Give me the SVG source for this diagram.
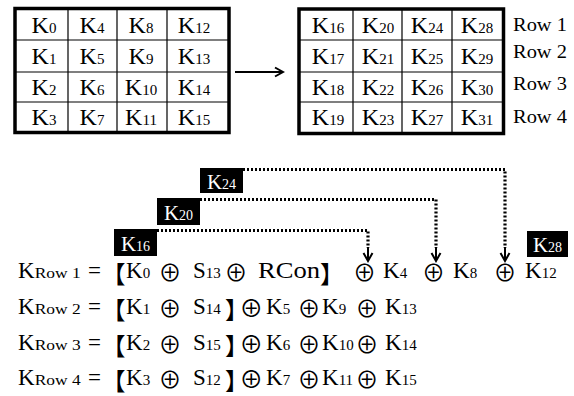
<svg xmlns="http://www.w3.org/2000/svg" width="574" height="396" viewBox="0 0 574 396">
<style>
.t{font-family:"Liberation Serif","Times New Roman",serif;fill:#000}
.w{fill:#fff}
.k{font-size:24px}
.d{font-size:15px}
.ek{font-size:23px}
.ed{font-size:15px}
.lk{font-size:21px}
.ld{font-size:14px}
.op{font-family:"Noto Sans CJK SC",sans-serif;font-size:23px}
.br{font-family:"Noto Sans CJK SC",sans-serif;font-size:24px}
.bo{font-family:"Noto Sans CJK SC",sans-serif;font-size:23.5px;letter-spacing:-9px}
.row{font-size:19px}
.grid{fill:none;stroke:#000;stroke-width:1.2}
.outer{fill:none;stroke:#000;stroke-width:3.5}
.mid{text-anchor:middle}
.dot{fill:none;stroke:#000;stroke-width:3.2;stroke-dasharray:2 2}
.sol{fill:none;stroke:#000;stroke-width:2}
</style>
<defs>
<marker id="ah" viewBox="-10 -6 12 12" refX="0" refY="0" markerWidth="12" markerHeight="12" markerUnits="userSpaceOnUse" orient="auto">
<path d="M-8,-4.5 L0,0 L-8,4.5" fill="none" stroke="#000" stroke-width="2"/>
</marker>
</defs>

<g id="table-left">
<rect class="outer" x="15" y="8.5" width="214" height="124"/>
<path class="grid" d="M68,8.5V132.5M117,8.5V132.5M167,8.5V132.5M15,40H229M15,72H229M15,102H229"/>
<g class="t mid">
<text x="44" y="33"><tspan class="k">K</tspan><tspan class="d">0</tspan></text>
<text x="92" y="33"><tspan class="k">K</tspan><tspan class="d">4</tspan></text>
<text x="141" y="33"><tspan class="k">K</tspan><tspan class="d">8</tspan></text>
<text x="194" y="33"><tspan class="k">K</tspan><tspan class="d">12</tspan></text>
<text x="44" y="64"><tspan class="k">K</tspan><tspan class="d">1</tspan></text>
<text x="92" y="64"><tspan class="k">K</tspan><tspan class="d">5</tspan></text>
<text x="141" y="64"><tspan class="k">K</tspan><tspan class="d">9</tspan></text>
<text x="194" y="64"><tspan class="k">K</tspan><tspan class="d">13</tspan></text>
<text x="44" y="95"><tspan class="k">K</tspan><tspan class="d">2</tspan></text>
<text x="92" y="95"><tspan class="k">K</tspan><tspan class="d">6</tspan></text>
<text x="141" y="95"><tspan class="k">K</tspan><tspan class="d">10</tspan></text>
<text x="194" y="95"><tspan class="k">K</tspan><tspan class="d">14</tspan></text>
<text x="44" y="125"><tspan class="k">K</tspan><tspan class="d">3</tspan></text>
<text x="92" y="125"><tspan class="k">K</tspan><tspan class="d">7</tspan></text>
<text x="141" y="125"><tspan class="k">K</tspan><tspan class="d">11</tspan></text>
<text x="194" y="125"><tspan class="k">K</tspan><tspan class="d">15</tspan></text>
</g>
</g>

<g id="table-right">
<rect class="outer" x="299" y="9" width="204.5" height="124.5"/>
<path class="grid" d="M353,9V133.5M402,9V133.5M452,9V133.5M299,40H503.5M299,72H503.5M299,102H503.5"/>
<g class="t mid">
<text x="328" y="33"><tspan class="k">K</tspan><tspan class="d">16</tspan></text>
<text x="378" y="33"><tspan class="k">K</tspan><tspan class="d">20</tspan></text>
<text x="427" y="33"><tspan class="k">K</tspan><tspan class="d">24</tspan></text>
<text x="477" y="33"><tspan class="k">K</tspan><tspan class="d">28</tspan></text>
<text x="328" y="64"><tspan class="k">K</tspan><tspan class="d">17</tspan></text>
<text x="378" y="64"><tspan class="k">K</tspan><tspan class="d">21</tspan></text>
<text x="427" y="64"><tspan class="k">K</tspan><tspan class="d">25</tspan></text>
<text x="477" y="64"><tspan class="k">K</tspan><tspan class="d">29</tspan></text>
<text x="328" y="95"><tspan class="k">K</tspan><tspan class="d">18</tspan></text>
<text x="378" y="95"><tspan class="k">K</tspan><tspan class="d">22</tspan></text>
<text x="427" y="95"><tspan class="k">K</tspan><tspan class="d">26</tspan></text>
<text x="477" y="95"><tspan class="k">K</tspan><tspan class="d">30</tspan></text>
<text x="328" y="125"><tspan class="k">K</tspan><tspan class="d">19</tspan></text>
<text x="378" y="125"><tspan class="k">K</tspan><tspan class="d">23</tspan></text>
<text x="427" y="125"><tspan class="k">K</tspan><tspan class="d">27</tspan></text>
<text x="477" y="125"><tspan class="k">K</tspan><tspan class="d">31</tspan></text>
</g>
</g>

<g id="row-labels" class="t row">
<text x="513" y="31" textLength="54" lengthAdjust="spacingAndGlyphs">Row 1</text>
<text x="513" y="58" textLength="54" lengthAdjust="spacingAndGlyphs">Row 2</text>
<text x="513" y="90" textLength="54" lengthAdjust="spacingAndGlyphs">Row 3</text>
<text x="513" y="123" textLength="54" lengthAdjust="spacingAndGlyphs">Row 4</text>
</g>

<g id="label-K16">
<rect x="114" y="229" width="43" height="27" fill="#000"/>
<text class="t w mid" x="135.5" y="251"><tspan class="lk">K</tspan><tspan class="ld">16</tspan></text>
</g>
<g id="label-K20">
<rect x="157" y="198" width="43" height="27" fill="#000"/>
<text class="t w mid" x="178.5" y="220"><tspan class="lk">K</tspan><tspan class="ld">20</tspan></text>
</g>
<g id="label-K24">
<rect x="200" y="168" width="43" height="25" fill="#000"/>
<text class="t w mid" x="221.5" y="189"><tspan class="lk">K</tspan><tspan class="ld">24</tspan></text>
</g>
<g id="label-K28">
<rect x="527" y="231" width="41" height="26" fill="#000"/>
<text class="t w mid" x="547.5" y="252"><tspan class="lk">K</tspan><tspan class="ld">28</tspan></text>
</g>

<g id="connectors">
<line class="sol" x1="235" y1="72" x2="283" y2="72" marker-end="url(#ah)"/>
<path class="dot" d="M157,230.5H368V248"/>
<path class="dot" d="M200,199.5H436V248"/>
<path class="dot" d="M243,169.5H505V248"/>
<line class="sol" x1="368" y1="247" x2="368" y2="261" marker-end="url(#ah)"/>
<line class="sol" x1="436" y1="247" x2="436" y2="261" marker-end="url(#ah)"/>
<line class="sol" x1="505" y1="247" x2="505" y2="261" marker-end="url(#ah)"/>
</g>

<g id="eq-row1">
<text class="t"><tspan x="18" y="278" class="ek">K</tspan><tspan class="ed" textLength="46" lengthAdjust="spacingAndGlyphs">Row 1</tspan><tspan x="88" y="278" class="ek">=</tspan><tspan x="101.5" y="283" class="br">【</tspan><tspan x="126" y="278" class="ek">K</tspan><tspan class="ed">0</tspan><tspan x="158.5" y="280.5" class="op">⊕</tspan><tspan x="193" y="278" class="ek">S</tspan><tspan class="ed">13</tspan><tspan x="224.5" y="280.5" class="op">⊕</tspan><tspan x="258" y="278" class="ek" textLength="62" lengthAdjust="spacingAndGlyphs">RCon</tspan><tspan x="320" y="283" class="br">】</tspan><tspan x="353" y="280.5" class="op">⊕</tspan><tspan x="383" y="278" class="ek">K</tspan><tspan class="ed">4</tspan><tspan x="422" y="280.5" class="op">⊕</tspan><tspan x="453" y="278" class="ek">K</tspan><tspan class="ed">8</tspan><tspan x="493.5" y="280.5" class="op">⊕</tspan><tspan x="525" y="278" class="ek">K</tspan><tspan class="ed">12</tspan></text>
</g>

<g id="eq-row2">
<text class="t"><tspan x="18" y="314" class="ek">K</tspan><tspan class="ed" textLength="46" lengthAdjust="spacingAndGlyphs">Row 2</tspan><tspan x="88" y="314" class="ek">=</tspan><tspan x="101.5" y="319" class="br">【</tspan><tspan x="126" y="314" class="ek">K</tspan><tspan class="ed">1</tspan><tspan x="158.5" y="316.5" class="op">⊕</tspan><tspan x="193" y="314" class="ek">S</tspan><tspan class="ed">14</tspan><tspan x="225" y="319 316.5" class="bo">】⊕</tspan><tspan x="266" y="314" class="ek">K</tspan><tspan class="ed">5</tspan><tspan x="297.5" y="316.5" class="op">⊕</tspan><tspan x="322" y="314" class="ek">K</tspan><tspan class="ed">9</tspan><tspan x="355.5" y="316.5" class="op">⊕</tspan><tspan x="385" y="314" class="ek">K</tspan><tspan class="ed">13</tspan></text>
</g>

<g id="eq-row3">
<text class="t"><tspan x="18" y="350" class="ek">K</tspan><tspan class="ed" textLength="46" lengthAdjust="spacingAndGlyphs">Row 3</tspan><tspan x="88" y="350" class="ek">=</tspan><tspan x="101.5" y="355" class="br">【</tspan><tspan x="126" y="350" class="ek">K</tspan><tspan class="ed">2</tspan><tspan x="158.5" y="352.5" class="op">⊕</tspan><tspan x="193" y="350" class="ek">S</tspan><tspan class="ed">15</tspan><tspan x="225" y="355 352.5" class="bo">】⊕</tspan><tspan x="266" y="350" class="ek">K</tspan><tspan class="ed">6</tspan><tspan x="297.5" y="352.5" class="op">⊕</tspan><tspan x="322" y="350" class="ek">K</tspan><tspan class="ed">10</tspan><tspan x="355.5" y="352.5" class="op">⊕</tspan><tspan x="385" y="350" class="ek">K</tspan><tspan class="ed">14</tspan></text>
</g>

<g id="eq-row4">
<text class="t"><tspan x="18" y="385" class="ek">K</tspan><tspan class="ed" textLength="46" lengthAdjust="spacingAndGlyphs">Row 4</tspan><tspan x="88" y="385" class="ek">=</tspan><tspan x="101.5" y="390" class="br">【</tspan><tspan x="126" y="385" class="ek">K</tspan><tspan class="ed">3</tspan><tspan x="158.5" y="387.5" class="op">⊕</tspan><tspan x="193" y="385" class="ek">S</tspan><tspan class="ed">12</tspan><tspan x="225" y="390 387.5" class="bo">】⊕</tspan><tspan x="266" y="385" class="ek">K</tspan><tspan class="ed">7</tspan><tspan x="297.5" y="387.5" class="op">⊕</tspan><tspan x="322" y="385" class="ek">K</tspan><tspan class="ed">11</tspan><tspan x="355.5" y="387.5" class="op">⊕</tspan><tspan x="385" y="385" class="ek">K</tspan><tspan class="ed">15</tspan></text>
</g>
</svg>
